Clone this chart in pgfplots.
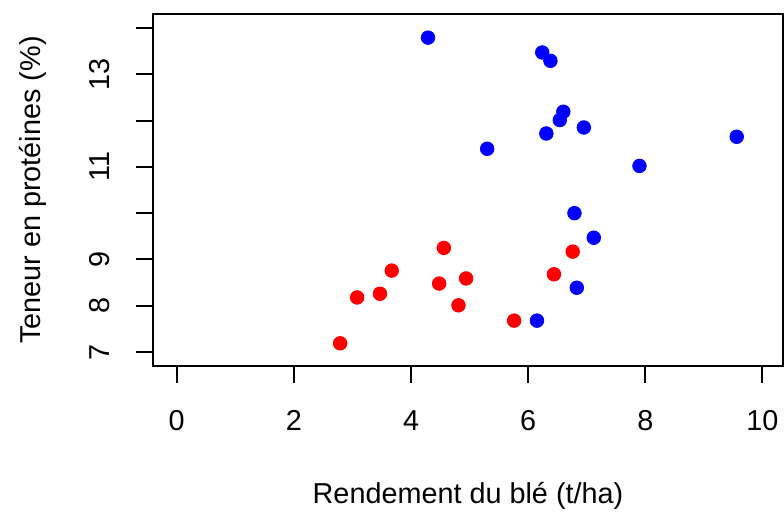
\documentclass[border=0pt]{standalone}
\usepackage{pgfplots}
\pgfplotsset{compat=1.18}
\usepackage{fontspec}
\setmainfont{Liberation Sans}

% Wheat yield vs protein content, two groups
\pgfplotstableread{
x y
4.29 13.79
6.24 13.47
6.38 13.29
6.60 12.19
6.54 12.01
6.95 11.85
6.31 11.72
5.30 11.39
7.90 11.02
9.56 11.65
6.79 10.00
7.12 9.47
6.83 8.39
6.15 7.68
}\bleu

\pgfplotstableread{
x y
2.79 7.19
3.08 8.18
3.47 8.26
3.67 8.76
4.56 9.25
4.48 8.48
4.94 8.59
4.81 8.01
5.76 7.68
6.44 8.68
6.76 9.17
}\rouge

\begin{document}
\begin{tikzpicture}[font=\fontsize{14.4pt}{17pt}\selectfont]
\useasboundingbox (0,0) rectangle (392pt,257.5pt);
\begin{axis}[
  at={(76.5pt,74.5pt)}, anchor=south west,
  scale only axis, width=315pt, height=176pt,
  xmin=-0.405, xmax=10.35, ymin=6.7, ymax=14.3,
  xtick={0,2,...,10}, ytick={7,...,14},
  yticklabels={7,8,9,,11,,13,},
  xtick pos=left, ytick pos=left,
  tick align=outside, major tick length=8.5pt,
  axis line style={line width=1pt},
  every tick/.style={black, line width=1pt},
  /pgf/number format/assume math mode=true,
  ticklabel style={font=\fontsize{14.4pt}{17pt}\selectfont},
  xticklabel style={anchor=base, yshift=-24pt},
  yticklabel style={rotate=90, anchor=base},
  yticklabel shift=13pt,
  xlabel={Rendement du blé (t/ha)},
  ylabel={Teneur en protéines (\%)},
  xlabel style={at={(axis description cs:0.5,-0.392)}, anchor=base},
  ylabel style={at={(axis description cs:-0.178,0.5)}, anchor=base, rotate=0},
  clip=false,
]
\addplot[only marks, mark=*, mark size=3.4pt, color=blue, mark options={draw=blue, fill=blue}] table[x=x, y=y] {\bleu};
\addplot[only marks, mark=*, mark size=3.4pt, color=red, mark options={draw=red, fill=red}] table[x=x, y=y] {\rouge};
\end{axis}
\end{tikzpicture}
\end{document}
